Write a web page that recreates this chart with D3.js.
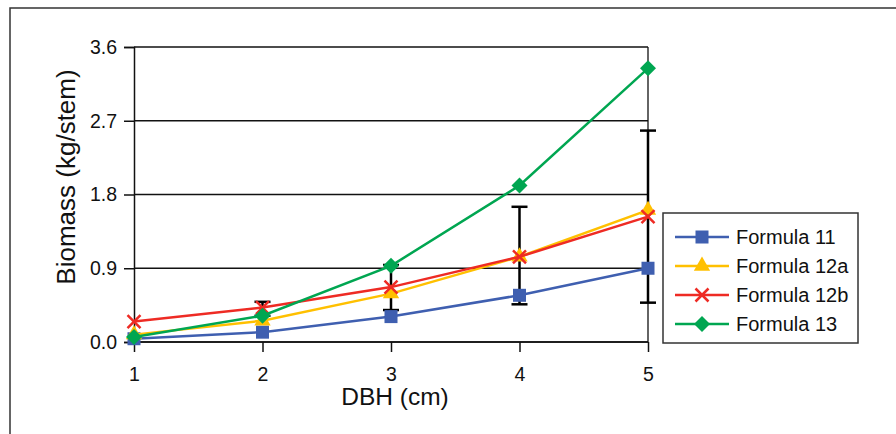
<!DOCTYPE html>
<html>
<head>
<meta charset="utf-8">
<script src="https://cdn.jsdelivr.net/npm/d3@7"></script>
<style>
  body { margin: 0; background: #fff; }
  svg { display: block; font-family: "Liberation Sans", Arial, sans-serif; }
</style>
</head>
<body>
<div id="chart"></div>
<script>
// data
const dbh = [1, 2, 3, 4, 5];
const yTicks = [0, 0.9, 1.8, 2.7, 3.6];
const formula11 = [0.04, 0.12, 0.31, 0.57, 0.90];
const formula12a = [0.09, 0.26, 0.59, 1.04, 1.61];
const formula12b = [0.25, 0.42, 0.67, 1.04, 1.53];
const formula13 = [0.06, 0.32, 0.93, 1.91, 3.34];
// error bars (around Formula 12b); none visible at DBH 1
const errLow = [null, 0.32, 0.39, 0.46, 0.48];
const errHigh = [null, 0.49, 0.94, 1.65, 2.58];

const series = [
  {name: "Formula 11", values: formula11, color: "#3f5fb0", symbol: "square"},
  {name: "Formula 12a", values: formula12a, color: "#ffc000", symbol: "triangle"},
  {name: "Formula 12b", values: formula12b, color: "#ee2b24", symbol: "cross"},
  {name: "Formula 13", values: formula13, color: "#00a651", symbol: "diamond"}
];

const W = 896, H = 434;
const plot = {left: 134, right: 648, top: 47, bottom: 342};

const svg = d3.select("#chart").append("svg")
  .attr("width", W)
  .attr("height", H);

// outer frame (runs off the page at right and bottom)
svg.append("rect")
  .attr("x", 10).attr("y", 8)
  .attr("width", W + 20).attr("height", H + 20)
  .attr("fill", "none")
  .attr("stroke", "#333")
  .attr("stroke-width", 1.5);

const x = d3.scaleLinear().domain([1, 5]).range([plot.left, plot.right]);
const y = d3.scaleLinear().domain([0, 3.6]).range([plot.bottom, plot.top]);

// gridlines
svg.append("g")
  .selectAll("line")
  .data(yTicks)
  .join("line")
  .attr("x1", plot.left).attr("x2", plot.right)
  .attr("y1", d => y(d)).attr("y2", d => y(d))
  .attr("stroke", "#111")
  .attr("stroke-width", 1.3);

// right border of plot area
svg.append("line")
  .attr("x1", plot.right).attr("x2", plot.right)
  .attr("y1", plot.top).attr("y2", plot.bottom)
  .attr("stroke", "#111")
  .attr("stroke-width", 1.3);

// y axis
const yAxis = svg.append("g")
  .attr("transform", `translate(${plot.left},0)`)
  .call(d3.axisLeft(y).tickValues(yTicks).tickFormat(d3.format(".1f")).tickSize(10).tickPadding(7));

// x axis
const xAxis = svg.append("g")
  .attr("transform", `translate(0,${plot.bottom})`)
  .call(d3.axisBottom(x).tickValues(dbh).tickFormat(d3.format("d")).tickSize(10).tickPadding(15));

[yAxis, xAxis].forEach(g => {
  g.select(".domain").attr("stroke", "#111").attr("stroke-width", 1.5);
  g.selectAll(".tick line").attr("stroke", "#111").attr("stroke-width", 1.5);
  g.selectAll("text")
    .attr("fill", "#111")
    .style("font-size", "19.5px")
    .style("font-family", "'Liberation Sans', Arial, sans-serif");
});
xAxis.selectAll(".domain").attr("d", `M${plot.left},0H${plot.right}`);

// axis titles
svg.append("text")
  .attr("x", 395).attr("y", 405)
  .attr("text-anchor", "middle")
  .style("font-size", "24.5px")
  .attr("fill", "#111")
  .text("DBH (cm)");

svg.append("text")
  .attr("transform", "translate(75,177) rotate(-90)")
  .attr("text-anchor", "middle")
  .style("font-size", "26px")
  .attr("fill", "#111")
  .text("Biomass (kg/stem)");

// error bars
const errG = svg.append("g").attr("stroke", "#000").attr("stroke-width", 2.5);
dbh.forEach((d, i) => {
  if (errLow[i] == null) return;
  const cx = x(d);
  errG.append("line")
    .attr("x1", cx).attr("x2", cx)
    .attr("y1", y(errLow[i])).attr("y2", y(errHigh[i]));
  [errLow[i], errHigh[i]].forEach(v => {
    errG.append("line")
      .attr("x1", cx - 8).attr("x2", cx + 8)
      .attr("y1", y(v)).attr("y2", y(v));
  });
});

function drawMarker(g, sym, color, cx, cy) {
  if (sym === "square") {
    g.append("rect")
      .attr("x", cx - 6.5).attr("y", cy - 6.5)
      .attr("width", 13).attr("height", 13)
      .attr("fill", color);
  } else if (sym === "triangle") {
    g.append("path")
      .attr("d", d3.symbol().type(d3.symbolTriangle).size(115)())
      .attr("transform", `translate(${cx},${cy})`)
      .attr("fill", color);
  } else if (sym === "diamond") {
    g.append("path")
      .attr("d", `M${cx},${cy - 8}L${cx + 8},${cy}L${cx},${cy + 8}L${cx - 8},${cy}Z`)
      .attr("fill", color);
  } else {
    g.append("path")
      .attr("d", `M${cx - 6.5},${cy - 6.5}L${cx + 6.5},${cy + 6.5}M${cx - 6.5},${cy + 6.5}L${cx + 6.5},${cy - 6.5}`)
      .attr("stroke", color)
      .attr("stroke-width", 2.5)
      .attr("fill", "none");
  }
}

const line = d3.line()
  .x((d, i) => x(dbh[i]))
  .y(d => y(d));

series.forEach(s => {
  const g = svg.append("g");
  g.append("path")
    .datum(s.values)
    .attr("d", line)
    .attr("fill", "none")
    .attr("stroke", s.color)
    .attr("stroke-width", 2.5);
  s.values.forEach((v, i) => drawMarker(g, s.symbol, s.color, x(dbh[i]), y(v)));
});

// legend
const legend = svg.append("g");
legend.append("rect")
  .attr("x", 663).attr("y", 213)
  .attr("width", 195).attr("height", 130)
  .attr("fill", "#fff")
  .attr("stroke", "#333")
  .attr("stroke-width", 1.5);

series.forEach((s, i) => {
  const ly = 237 + i * 29;
  legend.append("line")
    .attr("x1", 675).attr("x2", 729)
    .attr("y1", ly).attr("y2", ly)
    .attr("stroke", s.color)
    .attr("stroke-width", 2.5);
  drawMarker(legend, s.symbol, s.color, 702, ly);
  legend.append("text")
    .attr("x", 736).attr("y", ly + 7)
    .style("font-size", "20px")
    .attr("fill", "#111")
    .text(s.name);
});
</script>
</body>
</html>
